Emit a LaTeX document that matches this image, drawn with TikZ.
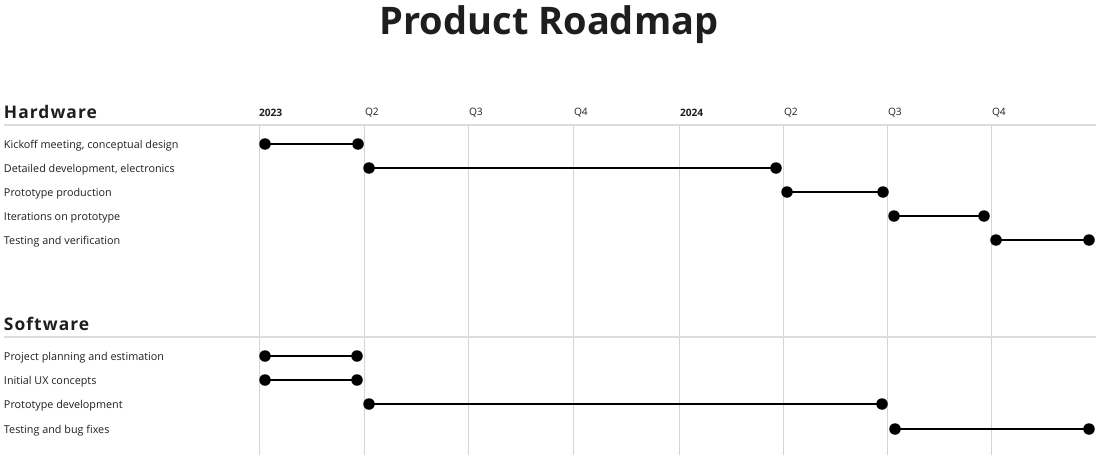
\documentclass[tikz,border=0pt]{standalone}
\usepackage{fontspec}
\setmainfont{Open Sans}
\definecolor{ink}{HTML}{1E1E1E}
\definecolor{gridc}{HTML}{D4D4D4}
\definecolor{rulec}{HTML}{DDDDDD}
\begin{document}
\begin{tikzpicture}[x=1pt,y=-1pt,
  every node/.style={inner sep=0pt,outer sep=0pt,text=ink},
  title/.style={font=\bfseries\fontsize{38}{40}\selectfont},
  section/.style={anchor=west,yshift=-1pt,font=\bfseries\fontsize{17.4}{19}\selectfont\addfontfeature{LetterSpace=6}},
  rowlabel/.style={anchor=west,yshift=-1.5pt,font=\fontsize{10.8}{12}\selectfont},
  yearlabel/.style={anchor=west,yshift=-1.5pt,font=\bfseries\fontsize{10.2}{12}\selectfont},
  qlabel/.style={anchor=west,yshift=-1.5pt,font=\fontsize{10.2}{12}\selectfont},
  gridline/.style={draw=gridc,line width=0.8pt},
  sectionrule/.style={draw=rulec,line width=1.2pt},
  dot/.style={circle,fill=black,minimum size=11.5pt},
  span/.style={draw=black,line width=2.8pt}]
\useasboundingbox (0,0) rectangle (1096,455);

% title
\node[title] (t) at (549,25) {Product Roadmap};

% quarter grid lines
\foreach \i/\x in {0/259,1/364,2/468,3/573,4/679,5/783,6/887,7/991}{
  \coordinate (gt\i) at (\x,125);
  \coordinate (gb\i) at (\x,455);
  \draw[gridline] (gt\i) -- (gb\i);
}

% timeline header
\node[yearlabel] (h0) at (259,111) {2023};
\node[qlabel] (h1) at (365,111) {Q2};
\node[qlabel] (h2) at (469,111) {Q3};
\node[qlabel] (h3) at (574,111) {Q4};
\node[yearlabel] (h4) at (680,111) {2024};
\node[qlabel] (h5) at (784,111) {Q2};
\node[qlabel] (h6) at (888,111) {Q3};
\node[qlabel] (h7) at (992,111) {Q4};

% section headings with rules
\node[section] (hw) at (4,111) {Hardware};
\coordinate (hwl) at (4,125);
\coordinate (hwr) at (1096,125);
\draw[sectionrule] (hwl) -- (hwr);

\node[section] (sw) at (4,323) {Software};
\coordinate (swl) at (4,337);
\coordinate (swr) at (1096,337);
\draw[sectionrule] (swl) -- (swr);

% task rows: name / y / start / end / label
\foreach \n/\y/\a/\b/\t in {
  k/144/265/358/{Kickoff meeting, conceptual design},
  d/168/369/776/{Detailed development, electronics},
  p/192/787/883/{Prototype production},
  i/216/894/984/{Iterations on prototype},
  v/240/996/1089/{Testing and verification},
  pl/356/265/357/{Project planning and estimation},
  ux/380/265/357/{Initial UX concepts},
  pd/404/369/882/{Prototype development},
  bf/429/895/1089/{Testing and bug fixes}}{
  \node[rowlabel] (l\n) at (4,\y) {\t};
  \node[dot] (s\n) at (\a,\y) {};
  \node[dot] (e\n) at (\b,\y) {};
  \draw[span] (s\n.center) -- (e\n.center);
}
\end{tikzpicture}
\end{document}
